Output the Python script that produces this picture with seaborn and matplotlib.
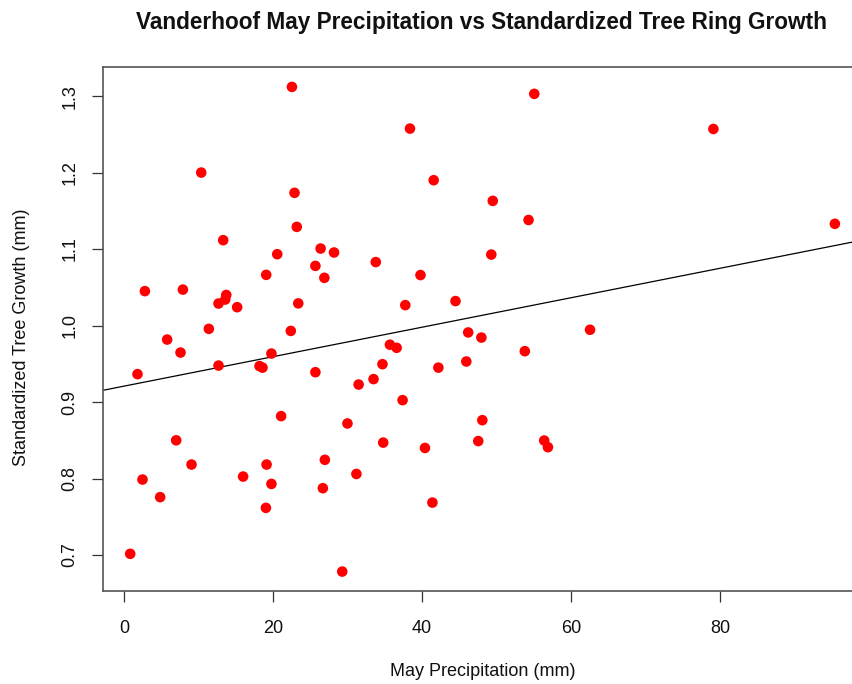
import matplotlib
matplotlib.use("Agg")
import matplotlib.pyplot as plt
import seaborn as sns
import pandas as pd

# --- data ---
may_precip_mm = [
    22.55, 10.38, 22.9, 13.33, 20.58, 19.1, 2.82, 7.92, 13.74, 13.6,
    12.7, 15.2, 11.4, 22.4, 38.39, 41.57, 23.2, 26.4, 28.2, 25.7,
    26.9, 33.8, 39.8, 23.4, 37.76, 44.5, 46.2, 55.07, 49.5, 54.3,
    49.3, 62.55, 79.1, 95.4, 5.81, 7.6, 1.83, 12.7, 18.2, 18.6,
    19.8, 21.1, 7.02, 9.08, 2.5, 4.87, 16.0, 19.15, 19.8, 19.06,
    0.85, 35.7, 36.6, 25.7, 34.7, 33.5, 31.5, 42.2, 45.95, 37.4,
    30.0, 34.8, 40.4, 26.97, 31.2, 26.7, 41.4, 29.3, 48.1, 47.55,
    47.97, 53.8, 56.4, 56.9,
]
tree_growth_mm = [
    1.312, 1.200, 1.1735, 1.1116, 1.0933, 1.0663, 1.045, 1.047, 1.040, 1.034,
    1.0288, 1.024, 0.9957, 0.993, 1.2575, 1.190, 1.129, 1.1007, 1.0955, 1.078,
    1.0624, 1.083, 1.066, 1.029, 1.0267, 1.032, 0.991, 1.3029, 1.163, 1.138,
    1.0928, 0.9945, 1.257, 1.133, 0.9817, 0.9647, 0.9365, 0.9477, 0.947, 0.945,
    0.9634, 0.8816, 0.850, 0.8183, 0.7987, 0.7757, 0.8026, 0.8183, 0.793, 0.7617,
    0.7016, 0.975, 0.9709, 0.939, 0.9495, 0.930, 0.9229, 0.945, 0.953, 0.9025,
    0.872, 0.847, 0.840, 0.8245, 0.806, 0.7874, 0.7686, 0.6784, 0.8763, 0.849,
    0.9843, 0.9665, 0.8497, 0.841,
]
x_ticks = [0, 20, 40, 60, 80]
y_ticks = [0.7, 0.8, 0.9, 1.0, 1.1, 1.2, 1.3]

title = "Vanderhoof May Precipitation vs Standardized Tree Ring Growth"
x_label = "May Precipitation (mm)"
y_label = "Standardized Tree Growth (mm)"

df = pd.DataFrame({"precip": may_precip_mm, "growth": tree_growth_mm})

sns.set_style("white")
plt.rcParams["font.family"] = ["Liberation Sans", "DejaVu Sans"]

W, H = 852, 684
fig = plt.figure(figsize=(W / 100, H / 100), dpi=100)
ax = fig.add_axes([103 / W, 1 - 591 / H, 1 - 103 / W, (591 - 67) / H])
ax.set_xlim(-2.8, 97.7)
ax.set_ylim(0.653, 1.338)

sns.scatterplot(data=df, x="precip", y="growth", ax=ax, color="#ff0000",
                s=58, edgecolor="none", linewidth=0, zorder=3)
sns.regplot(data=df, x="precip", y="growth", ax=ax, scatter=False, ci=None,
            truncate=False, line_kws={"color": "black", "lw": 0.9, "zorder": 2})
ax.set_xlim(-2.8, 97.7)
ax.set_ylim(0.653, 1.338)

ax.set_xticks(x_ticks)
ax.set_xticklabels([str(t) for t in x_ticks])
ax.set_yticks(y_ticks)
ax.set_yticklabels([f"{t:.1f}" for t in y_ticks])
ax.tick_params(axis="both", direction="out", length=8, width=0.9,
               color="#333333", labelsize=13, labelcolor="#111111",
               bottom=True, left=True, top=False, right=False)
ax.tick_params(axis="x", pad=13)
ax.tick_params(axis="y", pad=9.5, labelrotation=90)
for lab in ax.get_yticklabels():
    lab.set_verticalalignment("center")

for side in ["left", "top", "bottom"]:
    ax.spines[side].set_visible(True)
    ax.spines[side].set_color("#555555")
    ax.spines[side].set_linewidth(1.2)
ax.spines["right"].set_visible(False)

ax.set_xlabel("")
ax.set_ylabel("")
fig.text(483 / W, 1 - 672 / H, x_label, ha="center", va="center", fontsize=13, color="#111111")
fig.text(22 / W, 1 - 337 / H, y_label, ha="center", va="center", rotation=90,
         fontsize=13, color="#111111")
fig.text(481 / W, 1 - 22 / H, title, ha="center", va="center", fontsize=16.3,
         fontweight="bold", color="#111111")

fig.savefig("out.png", dpi=100)
